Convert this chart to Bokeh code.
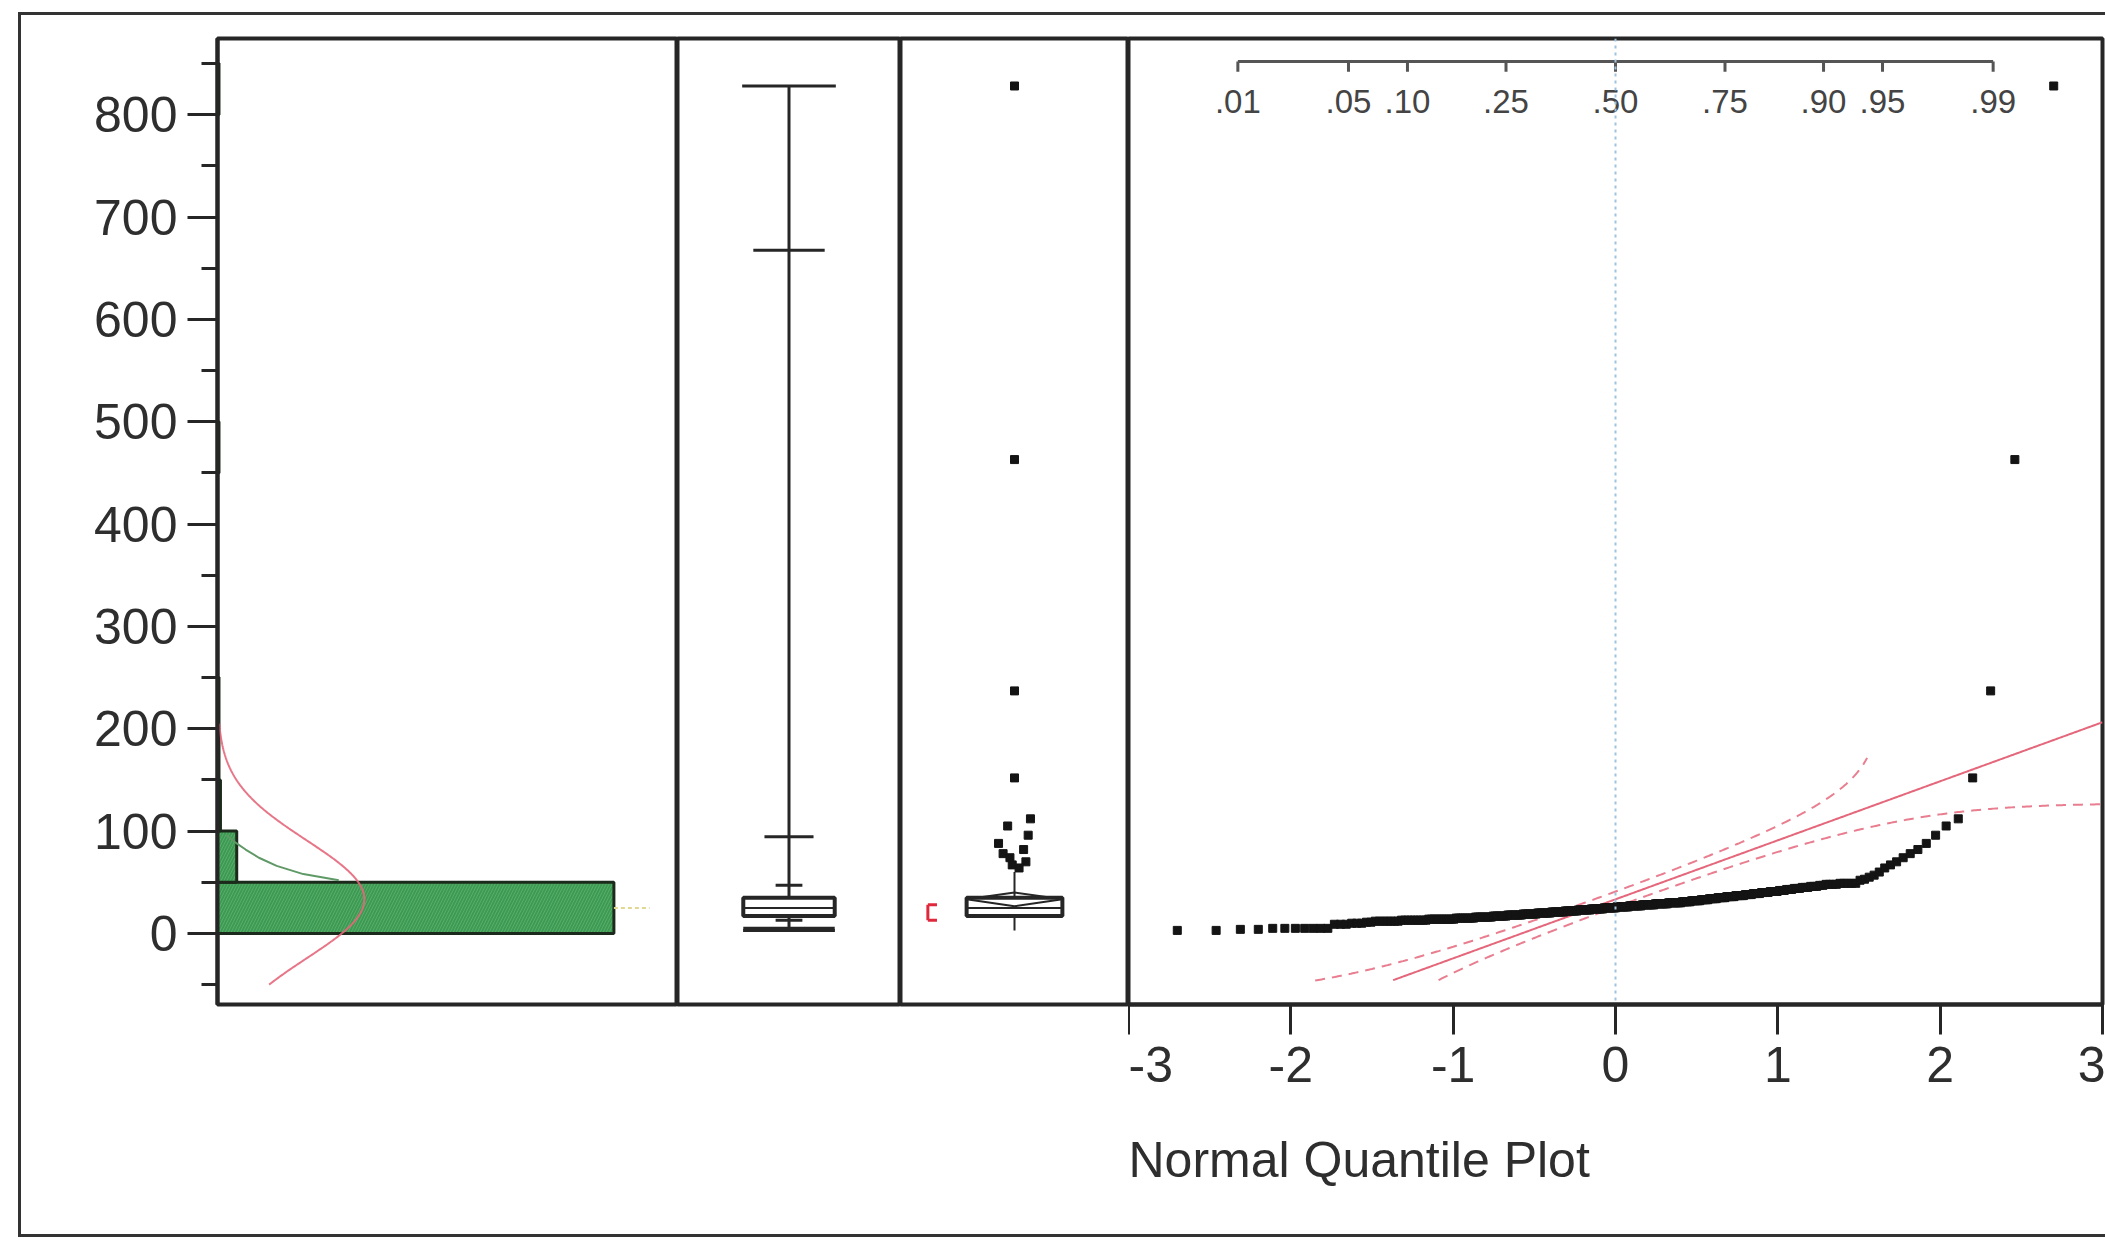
import numpy as np
from statistics import NormalDist
from bokeh.plotting import figure
from bokeh.layouts import row
from bokeh.models import Range1d, FixedTicker, Title, Span
from bokeh.embed import file_html
from bokeh.resources import INLINE
from bokeh.core.properties import value

# ---------------- data ----------------
value_levels = [3, 4, 5, 9, 10, 11, 12, 13, 14, 15, 16, 17, 18, 19, 20,
                21, 22, 23, 24, 25, 26, 27, 28, 29, 30, 31, 32, 33, 34, 35,
                36, 37, 38, 39, 40, 41, 42, 43, 44, 45, 46, 47, 48, 49,
                52, 53, 55, 57, 60, 64, 67, 70, 74, 78, 82, 88, 96,
                105, 112, 152, 237, 463, 828]
value_counts = [2, 2, 7, 3, 3, 2, 7, 9, 11, 9, 9, 8, 9, 9, 9,
                9, 9, 9, 9, 9, 9, 9, 9, 9, 9, 6, 6, 5, 5, 5,
                5, 5, 4, 4, 4, 4, 3, 3, 3, 3, 3, 2, 4, 5,
                1, 1, 1, 1, 1, 1, 1, 1, 1, 1, 1, 1, 1,
                1, 1, 1, 1, 1, 1]
bin_edges = list(range(0, 900, 50))
y_ticks = [0, 100, 200, 300, 400, 500, 600, 700, 800]
y_minor_ticks = [-50, 50, 150, 250, 350, 450, 550, 650, 750, 850]
qq_ticks = [-3, -2, -1, 0, 1, 2, 3]
prob_ticks = [0.01, 0.05, 0.10, 0.25, 0.50, 0.75, 0.90, 0.95, 0.99]
prob_labels = [".01", ".05", ".10", ".25", ".50", ".75", ".90", ".95", ".99"]
qbox_levels = [1.0, 0.995, 0.975, 0.90, 0.10, 0.025, 0.005, 0.0]
green_curve_values = [96, 90, 82, 74, 66, 58, 52]
green_curve_counts = [6, 11, 19, 28, 40, 58, 82]
lilliefors_d = 0.0523
qq_title = "Normal Quantile Plot"

# ---------------- style ----------------
FONT = "Liberation Sans"
FRAME = "#262626"
TXT = "#2e2e2e"
RED = "#e4677b"
qbox_widths = [0.42, 0.32, 0.22, 0.12, 0.12, 0.41, 0.41, 0.41]
outlier_jitter = [0, 0, 0, 0, 0.07, -0.03, 0.06, -0.07, 0.04, -0.05, -0.02, 0.05, -0.01, 0.02]
BAND_FLOOR = -46
UPPER_BAND_ZMAX = 1.55
PROB_AXIS_Y = 852
PROB_TICK_LEN = 10
PROB_LABEL_Y = 813

# ---------------- derived ----------------
data = np.repeat(np.array(value_levels, dtype=float), value_counts)
data.sort()
n = len(data)
mu = data.mean()
sd = data.std(ddof=1)
nd = NormalDist()


def quantile(p):
    pos = p * (n + 1)
    if pos <= 1:
        return data[0]
    if pos >= n:
        return data[-1]
    lo = int(np.floor(pos))
    frac = pos - lo
    return data[lo - 1] + frac * (data[lo] - data[lo - 1])


q1, med, q3 = quantile(0.25), quantile(0.5), quantile(0.75)
iqr = q3 - q1
fence_hi = q3 + 1.5 * iqr
fence_lo = q1 - 1.5 * iqr
whisk_hi = data[data <= fence_hi].max()
whisk_lo = data[data >= fence_lo].min()
outliers = np.sort(data[data > fence_hi])[::-1]

k = int(np.ceil(n / 2))
spans = data[k - 1:] - data[:n - k + 1]
i0 = int(np.argmin(spans))
short_lo, short_hi = data[i0], data[i0 + k - 1]

counts, edges = np.histogram(data, bins=bin_edges)
zq = np.array([nd.inv_cdf(i / (n + 1)) for i in range(1, n + 1)])

Y0, Y1 = -69.4, 874.4
yr = Range1d(Y0, Y1)
H = 1219


def base(width, min_left=0, min_right=0, xloc=None, yloc=None, x_range=None):
    p = figure(width=width, height=H, y_range=yr, x_range=x_range,
               output_backend="svg", toolbar_location=None,
               min_border_left=min_left, min_border_right=min_right,
               min_border_top=23, min_border_bottom=230,
               x_axis_location=xloc, y_axis_location=yloc)
    p.grid.visible = False
    p.outline_line_color = FRAME
    p.outline_line_width = 4
    p.outline_line_alpha = 1
    p.background_fill_color = "white"
    p.border_fill_color = "white"
    return p


# ---------------- panel 1: histogram ----------------
p1 = base(656, min_left=196, yloc="left", x_range=Range1d(0, 311))
ax = p1.yaxis[0]
ax.ticker = FixedTicker(ticks=y_ticks, minor_ticks=y_minor_ticks)
ax.major_label_text_font = FONT
ax.major_label_text_font_size = "50px"
ax.major_label_text_color = TXT
ax.major_tick_out = 30
ax.major_tick_in = 0
ax.minor_tick_out = 16
ax.minor_tick_in = 0
ax.major_tick_line_width = 3
ax.minor_tick_line_width = 3
ax.major_tick_line_color = FRAME
ax.minor_tick_line_color = FRAME
ax.axis_line_width = 4
ax.axis_line_color = FRAME
ax.major_label_standoff = 10

mask = counts > 0
p1.quad(left=0, right=counts[mask], bottom=edges[:-1][mask], top=edges[1:][mask],
        fill_color="#3d9a52", line_color="#1b2a1b", line_width=3,
        hatch_pattern="/", hatch_color="#78c488", hatch_alpha=0.45, hatch_scale=6, hatch_weight=1)

vv = np.linspace(-50, 205, 240)
cc = [n * 50 * nd.pdf((v - mu) / sd) / sd for v in vv]
p1.line(cc, vv, line_color=RED, line_width=2, line_alpha=0.9)
p1.line(green_curve_counts, green_curve_values, line_color="#5e9966", line_width=2)
p1.line([counts[0], counts[0] * 1.09], [med, med], line_color="#e0d890", line_width=2, line_dash="4 3")

# ---------------- panel 2: quantile box plot ----------------
p2 = base(223, x_range=Range1d(0, 1))
qv = [quantile(p) if 0 < p < 1 else (data[-1] if p == 1 else data[0]) for p in qbox_levels]
p2.segment(x0=0.5, y0=data[0], x1=0.5, y1=data[-1], line_color=FRAME, line_width=3)
p2.segment(x0=[0.5 - w / 2 for w in qbox_widths], y0=qv,
           x1=[0.5 + w / 2 for w in qbox_widths], y1=qv, line_color=FRAME, line_width=3)
p2.quad(left=0.5 - 0.205, right=0.5 + 0.205, bottom=q1, top=q3,
        fill_color="white", line_color=FRAME, line_width=4)
p2.segment(x0=0.5 - 0.205, y0=med, x1=0.5 + 0.205, y1=med, line_color=FRAME, line_width=2)

# ---------------- panel 3: outlier box plot ----------------
p3 = base(228, x_range=Range1d(0, 1))
p3.segment(x0=0.5, y0=whisk_lo, x1=0.5, y1=whisk_hi, line_color=FRAME, line_width=2)
p3.quad(left=0.5 - 0.21, right=0.5 + 0.21, bottom=q1, top=q3,
        fill_color="white", line_color=FRAME, line_width=4)
p3.segment(x0=0.5 - 0.21, y0=med, x1=0.5 + 0.21, y1=med, line_color=FRAME, line_width=2)
ci = 1.96 * sd / np.sqrt(n)
p3.patch([0.5 - 0.21, 0.5, 0.5 + 0.21, 0.5], [mu, mu + ci, mu, mu - ci],
         fill_alpha=0, line_color=FRAME, line_width=2)
p3.scatter([0.5 + j for j in outlier_jitter[:len(outliers)]], outliers,
           marker="square", size=8, color="#141414")
p3.segment(x0=[0.12, 0.12, 0.12], y0=[short_lo, short_lo, short_hi],
           x1=[0.12, 0.16, 0.16], y1=[short_hi, short_lo, short_hi],
           line_color="#e0283c", line_width=3)

# ---------------- panel 4: normal quantile plot ----------------
p4 = base(977, min_right=3, xloc="below", x_range=Range1d(-3, 3))
xa = p4.xaxis[0]
xa.ticker = FixedTicker(ticks=qq_ticks, minor_ticks=[])
xa.major_label_overrides = {t: str(t) for t in qq_ticks}
xa.major_label_text_font = FONT
xa.major_label_text_font_size = "50px"
xa.major_label_text_color = TXT
xa.major_tick_out = 30
xa.major_tick_in = 0
xa.major_tick_line_width = 3
xa.major_tick_line_color = FRAME
xa.axis_line_width = 4
xa.axis_line_color = FRAME
xa.major_label_standoff = 12

p4.add_layout(Title(text=qq_title, align="left", text_font=FONT,
                    text_font_size="50px", text_font_style="normal", text_color=TXT,
                    standoff=90), "below")

p4.add_layout(Span(location=0, dimension="height", line_color="#9ec3dd",
                   line_dash="3 4", line_width=2))

zz = np.linspace(-3, 3, 601)
fit = mu + sd * zz
m = fit >= BAND_FLOOR
p4.line(zz[m], fit[m], line_color=RED, line_width=2)

up_z, up_v, lo_z, lo_v = [], [], [], []
for z in zz:
    pu = nd.cdf(z) + lilliefors_d
    if pu < 1 and z <= UPPER_BAND_ZMAX:
        v = mu + sd * nd.inv_cdf(pu)
        if v >= BAND_FLOOR:
            up_z.append(z); up_v.append(v)
    pl = nd.cdf(z) - lilliefors_d
    if pl > 0:
        v = mu + sd * nd.inv_cdf(pl)
        if v >= BAND_FLOOR:
            lo_z.append(z); lo_v.append(v)
p4.line(up_z, up_v, line_color=RED, line_width=2, line_dash="10 7", line_alpha=0.85)
p4.line(lo_z, lo_v, line_color=RED, line_width=2, line_dash="10 7", line_alpha=0.85)

p4.scatter(zq, data, marker="square", size=8, color="#141414")

prob_z = [nd.inv_cdf(p) for p in prob_ticks]
p4.line([prob_z[0], prob_z[-1]], [PROB_AXIS_Y, PROB_AXIS_Y], line_color="#555555", line_width=3)
p4.segment(x0=prob_z, y0=PROB_AXIS_Y, x1=prob_z, y1=PROB_AXIS_Y - PROB_TICK_LEN,
           line_color="#555555", line_width=3)
p4.text(x=prob_z, y=PROB_LABEL_Y, text=prob_labels, text_align="center",
        text_baseline="middle", text_font=value(FONT), text_font_size="33px",
        text_color="#444444")

layout = row(p1, p2, p3, p4, styles={
    "border-top": "3px solid #333333",
    "border-left": "3px solid #333333",
    "border-bottom": "3px solid #333333",
    "margin-left": "18px",
    "margin-top": "12px",
})

open("out.html", "w").write(file_html(layout, INLINE))
